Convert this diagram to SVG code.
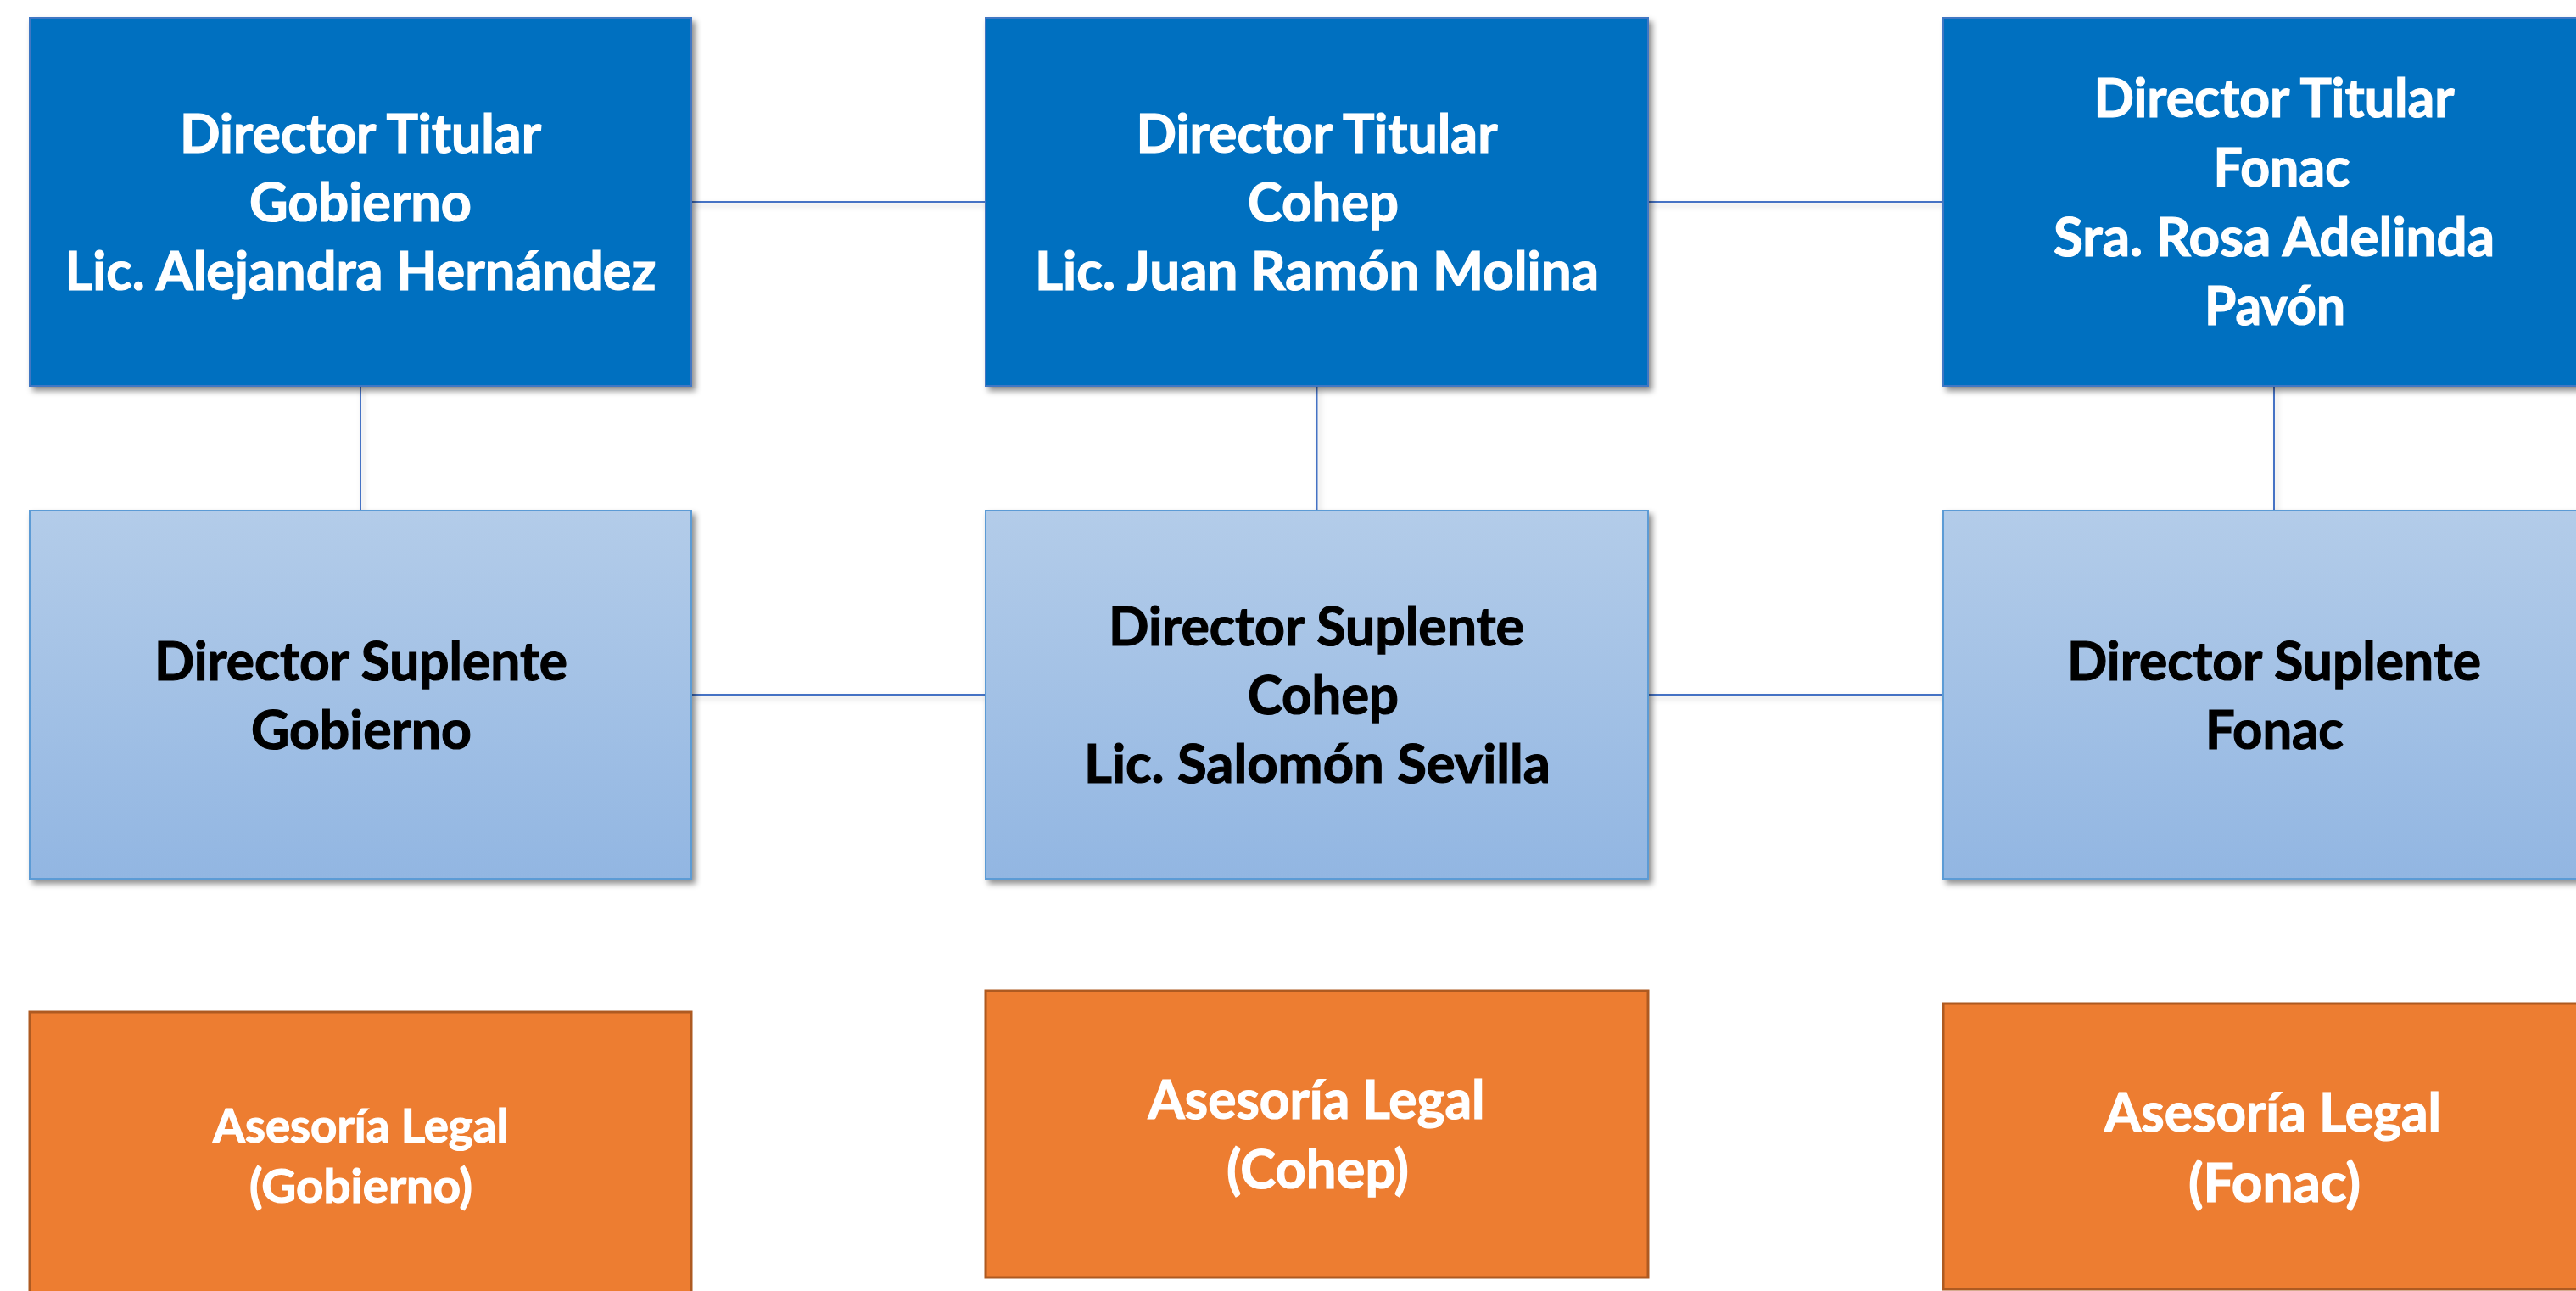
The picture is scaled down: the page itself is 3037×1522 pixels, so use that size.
<svg xmlns="http://www.w3.org/2000/svg" width="3037" height="1522" viewBox="0 0 3037 1522">
<style>
.t{font-family:"Lato","Open Sans","Liberation Sans",sans-serif;font-weight:bold;font-size:64px;text-anchor:middle;stroke-width:1.2px}
.w{fill:#ffffff;stroke:#ffffff}
.k{fill:#000000;stroke:#000000}
.s{font-size:56px}
.dark{fill:#0070C0;stroke:#3F77C4;stroke-width:2}
.light{fill:url(#lg);stroke:#5B9BD5;stroke-width:2}
.org{fill:#ED7D31;stroke:#AE5A21;stroke-width:3}
.c{stroke:#4472C4;stroke-width:2;fill:none}
</style>
<defs>
<linearGradient id="lg" x1="0" y1="0" x2="0" y2="1">
<stop offset="0" stop-color="#B3CCE9"/>
<stop offset="1" stop-color="#92B6E2"/>
</linearGradient>
<filter id="sh" x="-5%" y="-5%" width="115%" height="115%">
<feDropShadow dx="4" dy="5" stdDeviation="3.5" flood-color="#000" flood-opacity="0.45"/>
</filter>
<filter id="lsh" x="-5%" y="-200%" width="110%" height="500%">
<feDropShadow dx="3" dy="4" stdDeviation="3" flood-color="#000" flood-opacity="0.2"/>
</filter>
</defs>
<rect width="3037" height="1522" fill="#ffffff"/>
<g id="connectors" filter="url(#lsh)">
<path class="c" d="M815 238H1162M1943 238H2291"/>
<path class="c" d="M815 819H1162M1943 819H2291"/>
<path class="c" d="M425 455V602M1552.5 455V602M2681 455V602"/>
</g>
<g id="titular-gobierno">
<rect class="dark" x="35" y="21" width="780" height="434" filter="url(#sh)"/>
<text class="t w" x="425" y="180" textLength="426" lengthAdjust="spacingAndGlyphs">Director Titular</text>
<text class="t w" x="425" y="261" textLength="262" lengthAdjust="spacingAndGlyphs">Gobierno</text>
<text class="t w" x="425" y="342" textLength="697" lengthAdjust="spacingAndGlyphs">Lic. Alejandra Hernández</text>
</g>
<g id="titular-cohep">
<rect class="dark" x="1162" y="21" width="781" height="434" filter="url(#sh)"/>
<text class="t w" x="1552.5" y="180" textLength="426" lengthAdjust="spacingAndGlyphs">Director Titular</text>
<text class="t w" x="1560" y="261" textLength="178" lengthAdjust="spacingAndGlyphs">Cohep</text>
<text class="t w" x="1552.5" y="342" textLength="665" lengthAdjust="spacingAndGlyphs">Lic. Juan Ramón Molina</text>
</g>
<g id="titular-fonac">
<rect class="dark" x="2291" y="21" width="780" height="434" filter="url(#sh)"/>
<text class="t w" x="2681" y="138" textLength="425" lengthAdjust="spacingAndGlyphs">Director Titular</text>
<text class="t w" x="2690" y="220" textLength="161" lengthAdjust="spacingAndGlyphs">Fonac</text>
<text class="t w" x="2681" y="302" textLength="520" lengthAdjust="spacingAndGlyphs">Sra. Rosa Adelinda</text>
<text class="t w" x="2682" y="383" textLength="166" lengthAdjust="spacingAndGlyphs">Pavón</text>
</g>
<g id="suplente-gobierno">
<rect class="light" x="35" y="602" width="780" height="434" filter="url(#sh)"/>
<text class="t k" x="425.5" y="802" textLength="487" lengthAdjust="spacingAndGlyphs">Director Suplente</text>
<text class="t k" x="426" y="883" textLength="260" lengthAdjust="spacingAndGlyphs">Gobierno</text>
</g>
<g id="suplente-cohep">
<rect class="light" x="1162" y="602" width="781" height="434" filter="url(#sh)"/>
<text class="t k" x="1552" y="761" textLength="490" lengthAdjust="spacingAndGlyphs">Director Suplente</text>
<text class="t k" x="1560" y="842" textLength="178" lengthAdjust="spacingAndGlyphs">Cohep</text>
<text class="t k" x="1553" y="923" textLength="550" lengthAdjust="spacingAndGlyphs">Lic. Salomón Sevilla</text>
</g>
<g id="suplente-fonac">
<rect class="light" x="2291" y="602" width="780" height="434" filter="url(#sh)"/>
<text class="t k" x="2681" y="802" textLength="488" lengthAdjust="spacingAndGlyphs">Director Suplente</text>
<text class="t k" x="2681.5" y="883" textLength="163" lengthAdjust="spacingAndGlyphs">Fonac</text>
</g>
<g id="asesoria-gobierno">
<rect class="org" x="35" y="1193" width="780" height="338"/>
<text class="t w s" x="425" y="1347" textLength="348" lengthAdjust="spacingAndGlyphs">Asesoría Legal</text>
<text class="t w s" x="425.5" y="1418" textLength="263" lengthAdjust="spacingAndGlyphs">(Gobierno)</text>
</g>
<g id="asesoria-cohep">
<rect class="org" x="1162" y="1168" width="781" height="338"/>
<text class="t w" x="1552" y="1319" textLength="397" lengthAdjust="spacingAndGlyphs">Asesoría Legal</text>
<text class="t w" x="1553.5" y="1401" textLength="215" lengthAdjust="spacingAndGlyphs">(Cohep)</text>
</g>
<g id="asesoria-fonac">
<rect class="org" x="2291" y="1183" width="780" height="337"/>
<text class="t w" x="2679.5" y="1334" textLength="397" lengthAdjust="spacingAndGlyphs">Asesoría Legal</text>
<text class="t w" x="2681.5" y="1417" textLength="203" lengthAdjust="spacingAndGlyphs">(Fonac)</text>
</g>
</svg>
